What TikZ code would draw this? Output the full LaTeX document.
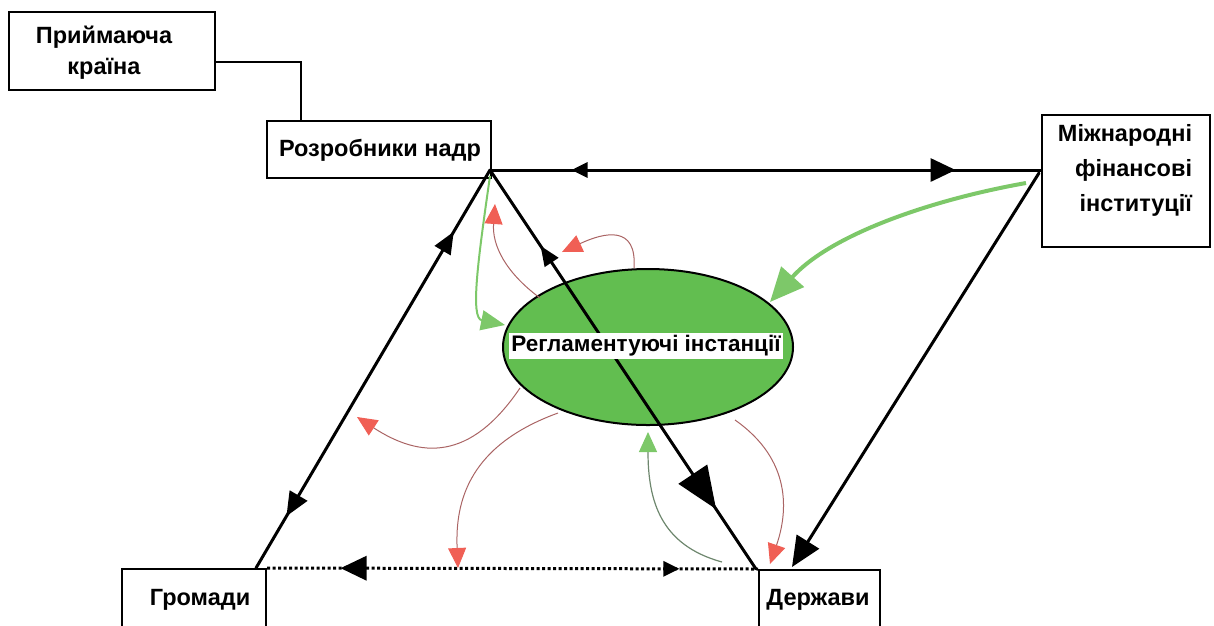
\documentclass[tikz,border=0pt]{standalone}
\usepackage{fontspec}
\setmainfont{Liberation Sans}
\usetikzlibrary{arrows.meta,decorations.markings,calc,shapes.geometric}
\definecolor{ellgreen}{RGB}{98,190,80}
\definecolor{arrgreen}{RGB}{125,200,105}
\definecolor{redline}{RGB}{170,100,100}
\definecolor{redhead}{RGB}{240,95,85}
\definecolor{greyline}{RGB}{110,135,110}
\begin{document}
\begin{tikzpicture}[x=1pt,y=-1pt,
  box/.style={draw=black,line width=2pt,fill=white,inner sep=0pt},
  lbl/.style={font=\bfseries\fontsize{23.5}{31}\selectfont,inner sep=0pt,align=center},
  thickline/.style={line width=3pt,line cap=round},
  redarrow/.style={draw=redline,line width=1pt,-{Triangle[length=20pt,width=18pt,color=redhead]}},
]
\useasboundingbox (0,0) rectangle (1214,625);

% boxes
\node[box,minimum width=206,minimum height=78] (pk) at (112,51) {};
\node[lbl] (pkt) at (104,53) {Приймаюча\\країна};
\node[box,minimum width=224,minimum height=57] (rn) at (379,149.5) {};
\node[lbl] (rnt) at (380,150) {Розробники надр};
\node[box,minimum width=168,minimum height=132] (mf) at (1126,181) {};
\node[lbl,align=right,font=\bfseries\fontsize{23.5}{35}\selectfont] (mft) at (1125,170) {Міжнародні\\фінансові\\інституції};
\node[box,minimum width=144,minimum height=62] (gr) at (194,600) {};
\node[lbl] (grt) at (200,600) {Громади};
\node[box,minimum width=121,minimum height=60] (dr) at (819.5,600) {};
\node[lbl] (drt) at (818,600) {Держави};

% ellipse
\node[draw=black,line width=2pt,fill=ellgreen,ellipse,minimum width=290,minimum height=156,inner sep=0pt] (reg) at (648,347) {};

% named coordinates
\coordinate (apex) at (490,170);
\coordinate (mfl) at (mf.west |- apex);
\coordinate (grtop) at ($(gr.north east)+(-11,0)$);
\coordinate (drtop) at ($(dr.north west)+(-2,0)$);
\coordinate (mfstart) at ($(mf.west)+(-2,-8)$);
\coordinate (drend) at ($(dr.north west)+(34,-2)$);

% connector receiving country
\draw[line width=2pt] ($(pk.east)+(0,11)$) -| ($(rn.north west)+(35,0)$);

% main black lines
\draw[thickline,postaction={decorate},decoration={markings,
  mark=at position 0.148 with {\arrowreversed{Triangle[length=16pt,width=15pt]}},
  mark=at position 0.845 with {\arrow{Triangle[length=25pt,width=23pt]}}}]
  (apex) -- (mfl);
\draw[thickline,postaction={decorate},decoration={markings,
  mark=at position 0.155 with {\arrowreversed{Triangle[length=22pt,width=18pt]}},
  mark=at position 0.87 with {\arrow{Triangle[length=24pt,width=20pt]}}}]
  (apex) -- (grtop);
\draw[thickline,postaction={decorate},decoration={markings,
  mark=at position 0.19 with {\arrowreversed{Triangle[length=20pt,width=16pt]}},
  mark=at position 0.85 with {\arrow{Triangle[length=42pt,width=34pt]}}}]
  (apex) -- (drtop);
\draw[thickline,-{Triangle[length=30pt,width=26pt]}] (mfstart) -- (drend);

% dotted bottom line
\draw[line width=3pt,dash pattern=on 3pt off 2.5pt,postaction={decorate},decoration={markings,
  mark=at position 0.15 with {\arrowreversed[line width=0pt]{Triangle[length=26pt,width=25pt]}},
  mark=at position 0.84 with {\arrow{Triangle[length=16pt,width=15pt]}}}]
  (gr.north east) -- (dr.north west);

% green arrows
\draw[draw=arrgreen,line width=4pt,-{Triangle[length=34pt,width=30pt,color=arrgreen]}]
  (1026,183) .. controls (930,200) and (830,235) .. (770,302);
\draw[draw=arrgreen,line width=2pt,-{Triangle[length=24pt,width=20pt,color=arrgreen]}]
  (490,176) .. controls (478,260) and (470,318) .. (505,325);
\draw[draw=greyline,line width=1.2pt,-{Triangle[length=20pt,width=18pt,color=arrgreen]}]
  (722,562) .. controls (660,545) and (648,500) .. (648,432);

% red arrows
\draw[redarrow] (634,268) .. controls (637,225) and (605,232) .. (562,252);
\draw[redarrow] (540,298) .. controls (505,272) and (492,245) .. (495,204);
\draw[redarrow] (520,388) .. controls (470,462) and (420,458) .. (357,417);
\draw[redarrow] (558,413) .. controls (470,445) and (455,500) .. (458,568);
\draw[redarrow] (735,420) .. controls (792,460) and (788,512) .. (770,564);

% ellipse label
\node[lbl,fill=white,inner xsep=2pt,inner ysep=3pt,font=\bfseries\fontsize{22.5}{27}\selectfont] (regt) at (646,346) {Регламентуючі інстанції};
\end{tikzpicture}
\end{document}
